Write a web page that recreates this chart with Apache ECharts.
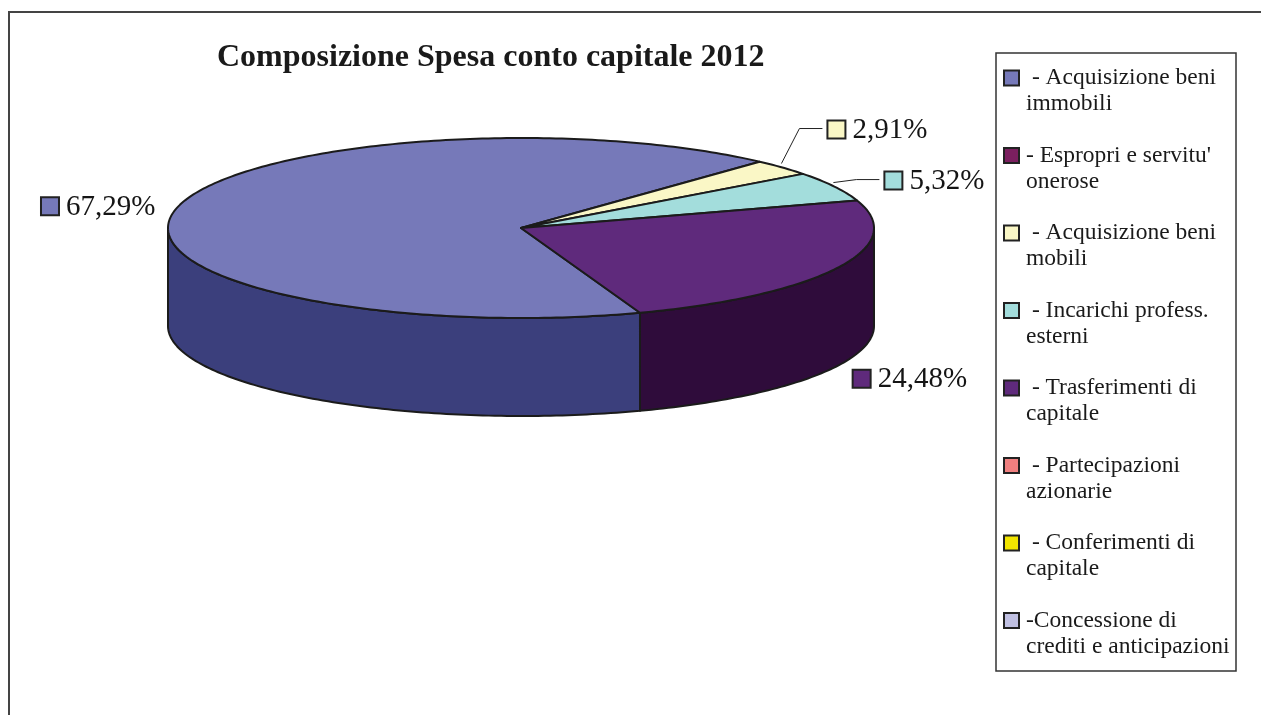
<!DOCTYPE html>
<html><head><meta charset="utf-8">
<script src="https://cdn.jsdelivr.net/npm/echarts@6/dist/echarts.min.js"></script>
<style>html,body{margin:0;padding:0;background:#fff}#chart{width:1261px;height:715px}</style>
</head><body><div id="chart"></div>
<script>
// ---- data ----
const categories = [
  'Acquisizione beni immobili',
  "Espropri e servitu' onerose",
  'Acquisizione beni mobili',
  'Incarichi profess. esterni',
  'Trasferimenti di capitale',
  'Partecipazioni azionarie',
  'Conferimenti di capitale',
  'Concessione di crediti e anticipazioni'
];
const legendLines = [
  [' - Acquisizione beni', 'immobili'],
  ["- Espropri e servitu'", 'onerose'],
  [' - Acquisizione beni', 'mobili'],
  [' - Incarichi profess.', 'esterni'],
  [' - Trasferimenti di', 'capitale'],
  [' - Partecipazioni', 'azionarie'],
  [' - Conferimenti di', 'capitale'],
  ['-Concessione di', 'crediti e anticipazioni']
];
const shares = [67.29, 0, 2.91, 5.32, 24.48, 0, 0, 0];
const chartTitle = 'Composizione Spesa conto capitale 2012';

// ---- styles ----
const topColors  = ['#7679B9', '#7B1F5F', '#FAF7C6', '#A3DDDC', '#5F2A7C', '#F08080', '#F2E500', '#C0C0E2'];
const sideColors = ['#3B3F7C', '#4A1038', '#B8B690', '#6FA3A2', '#2F0C3B', '#A05050', '#A09800', '#8080A8'];
const FONT = '"Liberation Serif", "Times New Roman", serif';
const PIE = { cx: 521, cy: 228, rx: 353, ry: 90, depth: 98, start: 160.3 };
// label placement relative to slice anchor (style only)
const labelPlace = {
  0: { dx: -134, dy: -13, leader: false },
  2: { dx: 45, dy: -47, leader: true },
  3: { dx: 50, dy: -15, leader: true },
  4: { dx: 15, dy: 4, leader: false }
};

const total = shares.reduce((a, b) => a + b, 0);
function pt(deg, dy) {
  const r = deg * Math.PI / 180;
  return [PIE.cx + PIE.rx * Math.sin(r), PIE.cy - PIE.ry * Math.cos(r) + (dy || 0)];
}
function arcPts(a0, a1, dy) {
  const n = Math.max(2, Math.ceil(Math.abs(a1 - a0)));
  const out = [];
  for (let i = 0; i <= n; i++) out.push(pt(a0 + (a1 - a0) * i / n, dy));
  return out;
}

function makeRender(i) {
  return function (params, api) {
    const v = api.value(0);
    if (!v) return null;
    let before = 0;
    for (let k = 0; k < i; k++) before += shares[k];
    const a0 = PIE.start + 360 * before / total;
    const a1 = a0 + 360 * v / total;
    const children = [];
    const edge = { stroke: '#1b1b1b', lineWidth: 2, lineJoin: 'round' };
    for (let k = -1; k <= 2; k++) {
      const lo = Math.max(a0, 90 + 360 * k), hi = Math.min(a1, 270 + 360 * k);
      if (hi > lo) {
        const pts = arcPts(lo, hi, 0).concat(arcPts(hi, lo, PIE.depth));
        children.push({ type: 'polygon', z2: 1, shape: { points: pts },
          style: Object.assign({ fill: sideColors[i] }, edge) });
      }
    }
    const topPts = [[PIE.cx, PIE.cy]].concat(arcPts(a0, a1, 0));
    children.push({ type: 'polygon', z2: 5, shape: { points: topPts },
      style: Object.assign({ fill: topColors[i] }, edge) });

    // label
    const mid = (a0 + a1) / 2;
    const m = ((mid % 360) + 360) % 360;
    const front = Math.cos(m * Math.PI / 180) < 0 && Math.abs(Math.sin(m * Math.PI / 180)) < 0.99;
    const anc = pt(mid, front ? PIE.depth : 0);
    const lp = labelPlace[i] || { dx: 10, dy: 0, leader: false };
    const sx = anc[0] + lp.dx, sy = anc[1] + lp.dy;
    const pct = (v / total * 100).toFixed(2).replace('.', ',') + '%';
    if (lp.leader) {
      children.push({ type: 'polyline', z2: 20,
        shape: { points: [[anc[0] - 1, anc[1] - 4], [sx - 28, sy + 8], [sx - 5, sy + 8]] },
        style: { stroke: '#222', lineWidth: 1, fill: null } });
    }
    children.push({ type: 'rect', z2: 20, shape: { x: sx, y: sy, width: 18, height: 18 },
      style: { fill: topColors[i], stroke: '#222', lineWidth: 2 } });
    children.push({ type: 'text', z2: 20,
      style: { text: pct, x: sx + 25, y: sy + 10, fill: '#151515',
        font: '29px ' + FONT, verticalAlign: 'middle', align: 'left' } });
    return { type: 'group', children: children };
  };
}

const series = categories.map((name, i) => ({
  type: 'custom',
  name: name,
  coordinateSystem: 'none',
  itemStyle: { color: topColors[i] },
  data: [[shares[i]]],
  renderItem: makeRender(i),
  silent: true
}));

const chart = echarts.init(document.getElementById('chart'), null, { renderer: 'canvas' });
chart.setOption({
  animation: false,
  backgroundColor: '#fff',
  title: {
    text: chartTitle, left: 217, top: 42, padding: 0,
    textStyle: { fontFamily: FONT, fontSize: 32, fontWeight: 'bold', color: '#1a1a1a' }
  },
  graphic: [
    { type: 'rect', z: 0, shape: { x: 9, y: 12, width: 1300, height: 800 },
      style: { fill: null, stroke: '#444', lineWidth: 2 } },
    { type: 'rect', z: 0, shape: { x: 996, y: 53, width: 240, height: 618 },
      style: { fill: '#fff', stroke: '#333', lineWidth: 1.5 } }
  ],
  legend: {
    orient: 'vertical', left: 1003, top: 39, padding: 0, itemGap: -0.5,
    itemWidth: 15, itemHeight: 15, icon: 'rect', selectedMode: false,
    itemStyle: { borderColor: '#222', borderWidth: 2 },
    textStyle: { fontFamily: FONT, fontSize: 23.5, color: '#1a1a1a', lineHeight: 26, padding: [0, 0, 0, 2] },
    formatter: name => '\n' + legendLines[categories.indexOf(name)].join('\n'),
    data: categories
  },
  series: series
});
</script>
</body></html>
